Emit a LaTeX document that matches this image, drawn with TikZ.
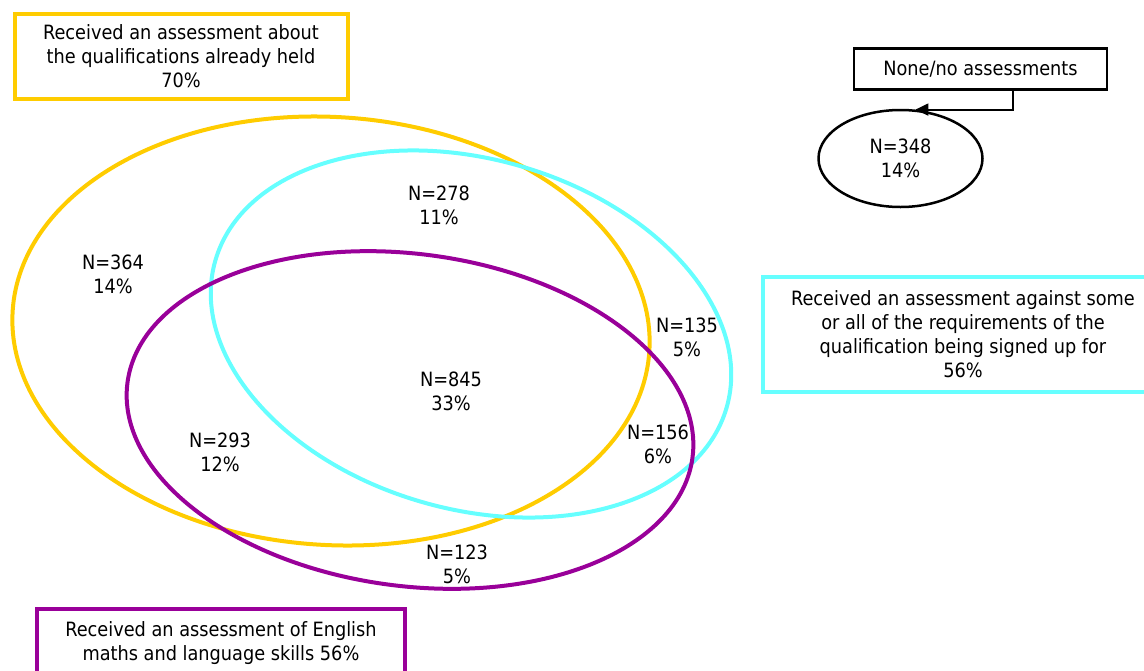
\documentclass[tikz,border=0pt]{standalone}
\usepackage{fontspec}
\setmainfont{DejaVu Sans Condensed}
\usetikzlibrary{shapes.geometric,arrows.meta}
\definecolor{vyel}{HTML}{FFCC00}
\definecolor{vcyan}{HTML}{66FFFF}
\definecolor{vpurp}{HTML}{990099}
\tikzset{
  vset/.style={line width=4pt},
  lbl/.style={align=center,font=\fontsize{19.7}{24}\selectfont,inner sep=0pt},
  setbox/.style={draw,line width=4pt,align=center,font=\fontsize{19.7}{24}\selectfont,inner sep=0pt},
}
\begin{document}
\begin{tikzpicture}[x=1pt,y=1pt]
\useasboundingbox (0,0) rectangle (1144,-670);
\clip (0,0) rectangle (1144,-670);
% sets
\draw[vset,vyel,rotate around={-3.6:(331,-331)}] (331,-331) ellipse [x radius=319pt,y radius=214pt];
\draw[vset,vcyan,rotate around={-16:(471,-334)}] (471,-334) ellipse [x radius=266pt,y radius=175pt];
\draw[vset,vpurp,rotate around={-7.6:(410,-420)}] (410,-420) ellipse [x radius=285pt,y radius=166pt];
% boxes
\node[setbox,vyel,text=black,minimum width=333pt,minimum height=85pt] (ybox) at (181,-56.5)
  {Received an assessment about\\the qualifications already held\\70\%};
\node[setbox,vcyan,text=black,minimum width=400pt,minimum height=115pt] (cbox) at (963,-334.5)
  {Received an assessment against some\\or all of the requirements of the\\qualification being signed up for\\56\%};
\node[setbox,vpurp,text=black,minimum width=368pt,minimum height=69pt] (pbox) at (221,-643.5)
  {Received an assessment of English\\maths and language skills 56\%};
\node[setbox,line width=2.5pt,minimum width=253pt,minimum height=41pt] (none) at (980.5,-69)
  {None/no assessments};
\node[lbl,draw,line width=2.5pt,ellipse,minimum width=164pt,minimum height=97pt] (small) at (900.5,-158.5)
  {N=348\\14\%};
\coordinate (drop) at (1013,-89.5);
\draw[line width=2pt,-{Triangle[length=13pt,width=12pt]}] (drop) |- (small.73);
% region labels
\node[lbl] (r364) at (113,-274.5) {N=364\\14\%};
\node[lbl] (r278) at (439,-205) {N=278\\11\%};
\node[lbl] (r845) at (451,-391) {N=845\\33\%};
\node[lbl] (r293) at (220,-452) {N=293\\12\%};
\node[lbl] (r135) at (687,-337) {N=135\\5\%};
\node[lbl] (r156) at (658,-444.5) {N=156\\6\%};
\node[lbl] (r123) at (457,-564) {N=123\\5\%};
\end{tikzpicture}
\end{document}
